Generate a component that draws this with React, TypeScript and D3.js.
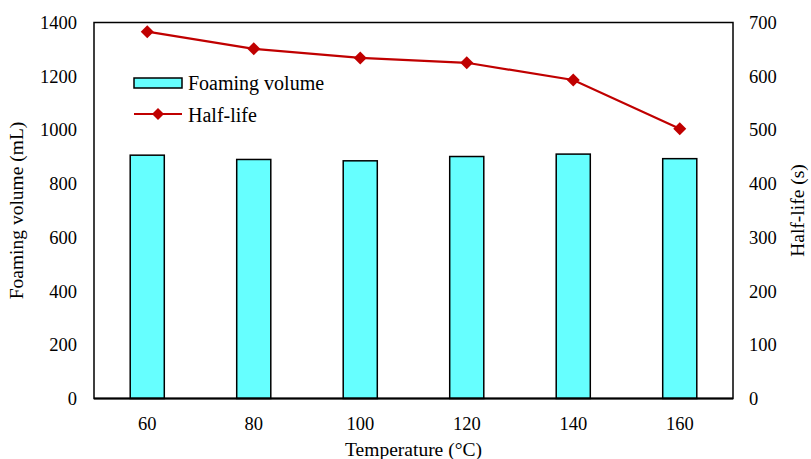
import React from 'react'
import * as d3 from 'd3'

const temperatures = ['60', '80', '100', '120', '140', '160']
const foamingVolume = [906, 890, 885, 901, 910, 893]
const halfLife = [683, 651, 634, 625, 593, 502]
const leftTicks = [0, 200, 400, 600, 800, 1000, 1200, 1400]
const rightTicks = [0, 100, 200, 300, 400, 500, 600, 700]

const width = 811
const height = 459
const margin = {top: 22.5, right: 78, bottom: 60.5, left: 94}
const plotW = width - margin.left - margin.right
const plotH = height - margin.top - margin.bottom

const font = '"Liberation Serif", "Times New Roman", serif'
const red = '#C00000'

export default function App() {
    const x = d3.scaleBand().domain(temperatures).range([0, plotW]).paddingInner(0.68).paddingOuter(0.34)
    const yL = d3.scaleLinear().domain([0, 1400]).range([plotH, 0])
    const yR = d3.scaleLinear().domain([0, 700]).range([plotH, 0])

    const line = d3.line<number>()
        .x((d, i) => x(temperatures[i])! + x.bandwidth() / 2)
        .y(d => yR(d))

    const diamond = (cx: number, cy: number, r = 6.5) =>
        `M${cx},${cy - r}L${cx + r},${cy}L${cx},${cy + r}L${cx - r},${cy}Z`

    return (
        <svg width={width} height={height} style={{position: 'absolute', left: 0, top: 0, background: '#fff'}}
             fontFamily={font}>
            <g transform={`translate(${margin.left}, ${margin.top})`}>
                {/* bars */}
                {foamingVolume.map((v, i) => (
                    <rect key={i} x={x(temperatures[i])} y={yL(v)} width={x.bandwidth()} height={plotH - yL(v)}
                          fill="#66FFFF" stroke="#000" strokeWidth={1.5} />
                ))}

                {/* frame */}
                <rect x={0} y={0} width={plotW} height={plotH} fill="none" stroke="#000" strokeWidth={1.5} />
                <line x1={0} x2={plotW} y1={plotH} y2={plotH} stroke="#000" strokeWidth={2} />

                {/* half-life line */}
                <path d={line(halfLife) || ''} fill="none" stroke={red} strokeWidth={2.2} />
                {halfLife.map((v, i) => (
                    <path key={i} d={diamond(x(temperatures[i])! + x.bandwidth() / 2, yR(v))} fill={red} />
                ))}

                {/* left ticks */}
                {leftTicks.map(t => (
                    <text key={t} x={-17} y={yL(t)} dy="0.35em" textAnchor="end" fontSize={18.5}>{t}</text>
                ))}
                {/* right ticks */}
                {rightTicks.map(t => (
                    <text key={t} x={plotW + 16} y={yR(t)} dy="0.35em" textAnchor="start" fontSize={18.5}>{t}</text>
                ))}
                {/* x ticks */}
                {temperatures.map(t => (
                    <text key={t} x={x(t)! + x.bandwidth() / 2} y={plotH + 31} textAnchor="middle" fontSize={18.5}>{t}</text>
                ))}

                {/* axis titles */}
                <text x={plotW / 2} y={plotH + 57} textAnchor="middle" fontSize={19.5}>Temperature (°C)</text>
                <text transform={`translate(${-71}, ${plotH / 2}) rotate(-90)`} textAnchor="middle" fontSize={19.5}>
                    Foaming volume (mL)
                </text>
                <text transform={`translate(${plotW + 71}, ${plotH / 2}) rotate(-90)`} textAnchor="middle" fontSize={19.5}>
                    Half-life (s)
                </text>

                {/* legend */}
                <rect x={40} y={55.5} width={48} height={10} fill="#66FFFF" stroke="#000" strokeWidth={1.5} />
                <text x={94} y={67} fontSize={20}>Foaming volume</text>
                <line x1={40} x2={88} y1={91.5} y2={91.5} stroke={red} strokeWidth={2.2} />
                <path d={diamond(64, 91.5, 6)} fill={red} />
                <text x={94} y={99} fontSize={20}>Half-life</text>
            </g>
        </svg>
    )
}
